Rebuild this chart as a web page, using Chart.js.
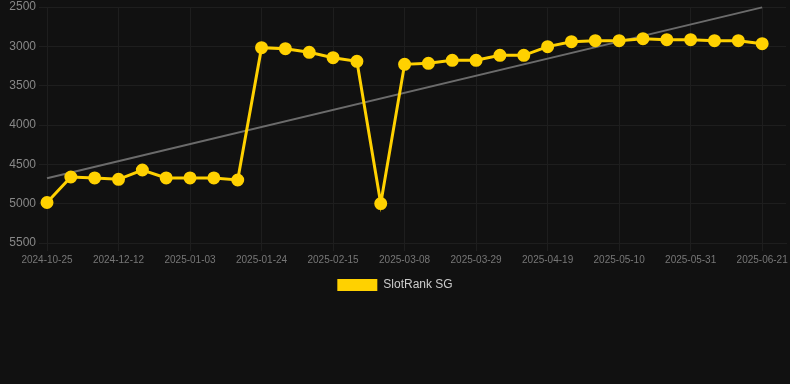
<!DOCTYPE html>
<html>
<head>
<meta charset="utf-8">
<script src="https://cdn.jsdelivr.net/npm/chart.js@4/dist/chart.umd.min.js"></script>
<style>
  html, body { margin: 0; padding: 0; background: #111111; }
  #wrap { position: relative; width: 790px; height: 301px; }
</style>
</head>
<body>
<div id="wrap"><canvas id="c"></canvas></div>
<script>
const dates = [
  "2024-10-25", "2024-11-14", "2024-11-28", "2024-12-12", "2024-12-19", "2024-12-27",
  "2025-01-03", "2025-01-10", "2025-01-17", "2025-01-24", "2025-01-31", "2025-02-07",
  "2025-02-15", "2025-02-22", "2025-03-01", "2025-03-08", "2025-03-15", "2025-03-22",
  "2025-03-29", "2025-04-05", "2025-04-12", "2025-04-19", "2025-04-26", "2025-05-03",
  "2025-05-10", "2025-05-17", "2025-05-24", "2025-05-31", "2025-06-07", "2025-06-14",
  "2025-06-21", "2025-06-28"
];
const rankSG = [
  4985, 4661, 4673, 4690, 4572, 4673, 4673, 4673, 4699, 3017, 3030, 3076,
  3144, 3191, 4999, 3229, 3216, 3178, 3178, 3114, 3114, 3004, 2941, 2928,
  2928, 2903, 2915, 2915, 2928, 2928, 2966, null
];
const trendStart = 4678;
const trendEnd = 2505;
const trend = dates.map((d, i) => i === 0 ? trendStart : (i === 30 ? trendEnd : null));
const yTicks = [2500, 3000, 3500, 4000, 4500, 5000, 5500];

const gold = '#ffd100';
new Chart(document.getElementById('c'), {
  type: 'line',
  data: {
    labels: dates,
    datasets: [
      {
        label: 'SlotRank SG',
        data: rankSG,
        borderColor: gold,
        backgroundColor: gold,
        borderWidth: 3,
        pointRadius: 5,
        pointHoverRadius: 5,
        pointBackgroundColor: gold,
        pointBorderColor: gold,
        tension: 0,
        clip: false,
        order: 1
      },
      {
        label: 'trend',
        data: trend,
        borderColor: '#6b6b6b',
        backgroundColor: '#6b6b6b',
        borderWidth: 2,
        pointRadius: 0,
        spanGaps: true,
        clip: false,
        order: 2
      }
    ]
  },
  options: {
    responsive: true,
    maintainAspectRatio: false,
    animation: false,
    layout: { autoPadding: false, padding: { top: 0, right: 0, left: 0 } },
    plugins: {
      legend: {
        position: 'bottom',
        labels: {
          color: '#cccccc',
          font: { family: 'Arial, Liberation Sans, sans-serif', size: 12 },
          boxWidth: 40,
          boxHeight: 12,
          generateLabels: (chart) => [{
            text: chart.data.datasets[0].label,
            fillStyle: gold,
            strokeStyle: gold,
            lineWidth: 0,
            fontColor: '#cccccc',
            hidden: false,
            datasetIndex: 0
          }]
        }
      },
      tooltip: { enabled: false }
    },
    scales: {
      x: {
        grid: { color: '#1e1e1e', drawTicks: true, tickLength: 8 },
        border: { color: '#1e1e1e' },
        afterFit: (axis) => { axis.paddingLeft = 0; axis.paddingRight = 4; },
        ticks: {
          color: '#777777',
          font: { family: 'Arial, Liberation Sans, sans-serif', size: 10 },
          autoSkip: false,
          maxRotation: 0,
          callback: function(v, i) { return (i % 3 === 0 && i <= 30) ? dates[i] : null; }
        }
      },
      y: {
        reverse: true,
        min: yTicks[0],
        max: yTicks[yTicks.length - 1],
        afterBuildTicks: (axis) => { axis.ticks = yTicks.map(v => ({ value: v })); },
        afterFit: (axis) => { axis.width = 47; axis.paddingTop = 7; },
        grid: { color: '#1e1e1e', tickLength: 8 },
        border: { color: '#1e1e1e' },
        ticks: {
          color: '#888888',
          font: { family: 'Arial, Liberation Sans, sans-serif', size: 12 },
          callback: (v) => String(v)
        }
      }
    }
  }
});
</script>
</body>
</html>
